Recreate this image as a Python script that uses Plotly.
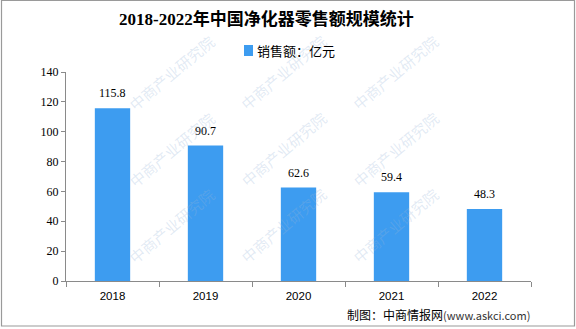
import plotly.graph_objects as go

# Retail sales of air purifiers in China, 100 million yuan
years = ["2018", "2019", "2020", "2021", "2022"]
sales = [115.8, 90.7, 62.6, 59.4, 48.3]
y_ticks = [0, 20, 40, 60, 80, 100, 120, 140]

W, H = 576, 329
M_L, M_R, M_T, M_B = 66, 45, 72, 48
PW, PH = W - M_L - M_R, H - M_T - M_B

BAR_BLUE = "#3d9cf0"
AXIS_GREY = "#8a8a8a"
SERIF = "Liberation Serif, Noto Sans CJK SC"
SANS = "Noto Sans CJK SC, Liberation Sans"


def px_x(p):
    """Pixel column -> paper x."""
    return (p - M_L) / PW


def px_y(p):
    """Pixel row -> paper y."""
    return (H - M_B - p) / PH


fig = go.Figure()
fig.add_trace(go.Bar(
    x=years, y=sales, width=0.38,
    marker=dict(color=BAR_BLUE, line=dict(width=0)),
    name="销售额：亿元", showlegend=False, hoverinfo="x+y",
))

annotations = []

# value labels above each bar (category axis -> position by index)
for i, v in enumerate(sales):
    annotations.append(dict(
        x=i, y=v, xref="x", yref="y", text=f"{v}", showarrow=False,
        yshift=15, font=dict(family=SERIF, size=12, color="#000000"),
    ))

# faint diagonal company watermarks
wm_cols = [72, 233, 395]
wm_rows = [72, 193, 314]
for wy in wm_rows:
    for wx in wm_cols:
        annotations.append(dict(
            x=px_x(wx + 50), y=px_y(wy - 44), xref="paper", yref="paper",
            text="中商产业研究院", showarrow=False, textangle=-40,
            font=dict(family=SANS, size=15, color="rgba(150,180,215,0.28)"),
        ))

# title
annotations.append(dict(
    x=px_x(117), y=px_y(19.5), xref="paper", yref="paper",
    xanchor="left", yanchor="middle", showarrow=False,
    text="<b>2018-2022年中国净化器零售额规模统计</b>",
    font=dict(family=SERIF, size=17, color="#000000"),
))

# legend text
annotations.append(dict(
    x=px_x(255), y=px_y(50.5), xref="paper", yref="paper",
    xanchor="left", yanchor="middle", showarrow=False,
    text="销售额：亿元", font=dict(family=SANS, size=13, color="#000000"),
))

# source note
annotations.append(dict(
    x=px_x(532), y=px_y(314), xref="paper", yref="paper",
    xanchor="right", yanchor="middle", showarrow=False,
    text="制图：中商情报网<span style='font-size:11px;color:#333333'>(www.askci.com)</span>",
    font=dict(family=SANS, size=12, color="#000000"),
))

shapes = [
    # legend swatch
    dict(type="rect", xref="paper", yref="paper",
         x0=px_x(244), x1=px_x(253), y0=px_y(56), y1=px_y(45),
         fillcolor=BAR_BLUE, line=dict(width=0)),
    # outer frame
    dict(type="rect", xref="paper", yref="paper",
         x0=px_x(1.5), x1=px_x(574.5), y0=px_y(326), y1=px_y(0.5),
         fillcolor="rgba(0,0,0,0)", line=dict(color="#9a9a9a", width=1.2)),
]

fig.update_layout(
    width=W, height=H,
    margin=dict(l=M_L, r=M_R, t=M_T, b=M_B, pad=0),
    paper_bgcolor="#ffffff", plot_bgcolor="#ffffff",
    bargap=0.62, showlegend=False,
    annotations=annotations, shapes=shapes,
    xaxis=dict(
        type="category", range=[-0.5, len(years) - 0.5],
        showline=True, linecolor=AXIS_GREY, linewidth=1,
        ticks="outside", tickson="boundaries", ticklen=5, tickcolor=AXIS_GREY,
        ticklabelstandoff=4,
        showgrid=False, zeroline=False,
        tickfont=dict(family="Liberation Sans", size=11.5, color="#000000"),
    ),
    yaxis=dict(
        range=[0, 140], tickvals=y_ticks, showline=True, linecolor=AXIS_GREY,
        linewidth=1, ticks="outside", ticklen=4, tickcolor=AXIS_GREY,
        showgrid=False, zeroline=False,
        tickfont=dict(family=SERIF, size=12, color="#000000"),
    ),
)

fig.write_html("out.html")
